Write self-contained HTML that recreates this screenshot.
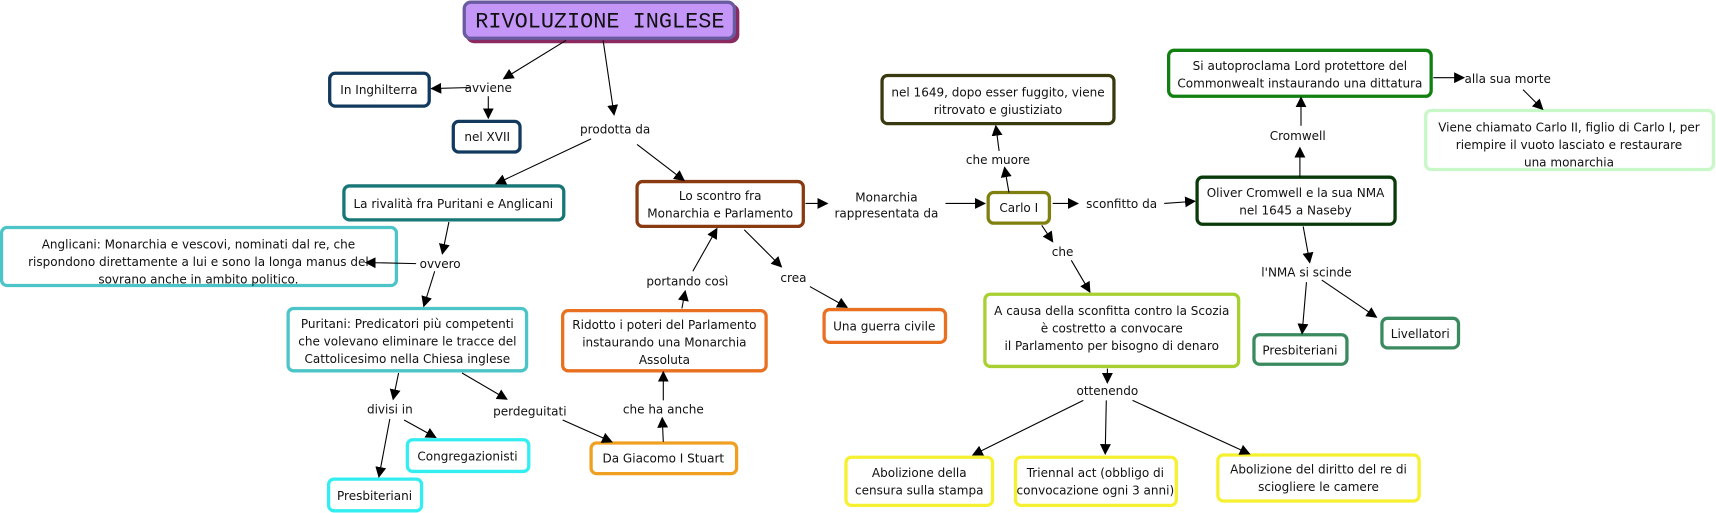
<!DOCTYPE html>
<html><head><meta charset="utf-8"><style>
html,body{margin:0;padding:0;background:#fff;}
svg{display:block;}
text{font-family:"DejaVu Sans","Liberation Sans",sans-serif;font-size:11px;fill:#111;}
.t{font-family:"Liberation Mono",monospace;font-size:20px;fill:#111;}
</style></head><body>
<svg width="1716" height="513" viewBox="0 0 1568 469" xmlns="http://www.w3.org/2000/svg">
<defs><marker id="a" markerWidth="10" markerHeight="10" refX="9" refY="5" orient="auto" markerUnits="userSpaceOnUse"><path d="M0,0 L10,5 L0,10 z" fill="#000"/></marker></defs>
<g fill="#fff" stroke-width="3">
<rect x="427" y="5" width="247" height="33" rx="6" fill="#8a2a60" stroke="#8a2a60"/>
<rect x="424" y="2" width="247" height="33" rx="6" fill="#c396f8" stroke="#6a5aa0"/>
<rect x="301" y="67" width="91" height="30" rx="5" stroke="#123a5e"/>
<rect x="414" y="111" width="61" height="28" rx="5" stroke="#123a5e"/>
<rect x="314" y="170" width="201" height="31" rx="5" stroke="#177676"/>
<rect x="1" y="208" width="361" height="53" rx="5" stroke="#4cc4c8"/>
<rect x="263" y="282" width="218" height="57" rx="5" stroke="#4cc4c8"/>
<rect x="372" y="402" width="111" height="29" rx="5" stroke="#33eef0"/>
<rect x="300" y="438" width="85" height="29" rx="5" stroke="#33eef0"/>
<rect x="582" y="166" width="152" height="41" rx="5" stroke="#8a3a10"/>
<rect x="514" y="284" width="186" height="55" rx="5" stroke="#e87020"/>
<rect x="540" y="405" width="133" height="28" rx="5" stroke="#f0a020"/>
<rect x="753" y="283" width="111" height="30" rx="5" stroke="#e87020"/>
<rect x="903" y="176" width="56" height="28" rx="5" stroke="#808010"/>
<rect x="806" y="69" width="212" height="44" rx="5" stroke="#3a3a10"/>
<rect x="900" y="269" width="232" height="66" rx="5" stroke="#a8d030"/>
<rect x="773" y="418" width="134" height="44" rx="5" stroke="#f5f030"/>
<rect x="928" y="418" width="147" height="44" rx="5" stroke="#f5f030"/>
<rect x="1113" y="416" width="184" height="42" rx="5" stroke="#f5f030"/>
<rect x="1094" y="162" width="181" height="43" rx="5" stroke="#0a3a0a"/>
<rect x="1068" y="46" width="240" height="42" rx="5" stroke="#108010"/>
<rect x="1303" y="101" width="263" height="54" rx="5" stroke="#c8f8c8"/>
<rect x="1146" y="306" width="85" height="27" rx="5" stroke="#3a8a60"/>
<rect x="1263" y="291" width="70" height="27" rx="5" stroke="#3a8a60"/>
</g>
<g stroke="#000" stroke-width="1" marker-end="url(#a)">
<line x1="517" y1="37" x2="460" y2="72"/>
<line x1="430" y1="80" x2="394" y2="81"/>
<line x1="446" y1="88" x2="446" y2="108"/>
<line x1="551" y1="37" x2="561" y2="105"/>
<line x1="540" y1="127" x2="453" y2="168"/>
<line x1="582" y1="132" x2="625" y2="165"/>
<line x1="410" y1="203" x2="404" y2="232"/>
<line x1="380" y1="241" x2="334" y2="240"/>
<line x1="397" y1="248" x2="387" y2="280"/>
<line x1="364" y1="341" x2="359" y2="365"/>
<line x1="356" y1="383" x2="346" y2="436"/>
<line x1="369" y1="384" x2="398" y2="400"/>
<line x1="422" y1="341" x2="463" y2="365"/>
<line x1="514" y1="384" x2="559" y2="404"/>
<line x1="606" y1="404" x2="605" y2="382"/>
<line x1="606" y1="366" x2="606" y2="340"/>
<line x1="623" y1="282" x2="626" y2="266"/>
<line x1="633" y1="248" x2="655" y2="209"/>
<line x1="680" y1="210" x2="714" y2="244"/>
<line x1="740" y1="262" x2="774" y2="281"/>
<line x1="736" y1="186" x2="756" y2="186"/>
<line x1="864" y1="186" x2="900" y2="186"/>
<line x1="922" y1="176" x2="918" y2="153"/>
<line x1="913" y1="138" x2="910" y2="115"/>
<line x1="962" y1="186" x2="985" y2="186"/>
<line x1="1064" y1="186" x2="1092" y2="184"/>
<line x1="952" y1="206" x2="962" y2="221"/>
<line x1="979" y1="238" x2="996" y2="267"/>
<line x1="1012" y1="337" x2="1012" y2="350"/>
<line x1="990" y1="366" x2="889" y2="416"/>
<line x1="1011" y1="366" x2="1010" y2="415"/>
<line x1="1035" y1="366" x2="1142" y2="415"/>
<line x1="1188" y1="162" x2="1188" y2="135"/>
<line x1="1189" y1="115" x2="1189" y2="89"/>
<line x1="1310" y1="71" x2="1338" y2="71"/>
<line x1="1392" y1="82" x2="1410" y2="100"/>
<line x1="1191" y1="207" x2="1197" y2="240"/>
<line x1="1194" y1="258" x2="1190" y2="305"/>
<line x1="1208" y1="256" x2="1258" y2="290"/>
</g>
<g text-anchor="middle">
<text class="t" x="548" y="25">RIVOLUZIONE INGLESE</text>
<text x="346" y="86">In Inghilterra</text>
<text x="445" y="129">nel XVII</text>
<text x="414" y="190">La rivalità fra Puritani e Anglicani</text>
<text x="181" y="227">Anglicani: Monarchia e vescovi, nominati dal re, che</text>
<text x="181" y="243">rispondono direttamente a lui e sono la longa manus del</text>
<text x="181" y="259">sovrano anche in ambito politico.</text>
<text x="372" y="300">Puritani: Predicatori più competenti</text>
<text x="372" y="316">che volevano eliminare le tracce del</text>
<text x="372" y="332">Cattolicesimo nella Chiesa inglese</text>
<text x="427" y="421">Congregazionisti</text>
<text x="342" y="457">Presbiteriani</text>
<text x="658" y="183">Lo scontro fra</text>
<text x="658" y="199">Monarchia e Parlamento</text>
<text x="607" y="301">Ridotto i poteri del Parlamento</text>
<text x="607" y="317">instaurando una Monarchia</text>
<text x="607" y="333">Assoluta</text>
<text x="606" y="423">Da Giacomo I Stuart</text>
<text x="808" y="302">Una guerra civile</text>
<text x="931" y="194">Carlo I</text>
<text x="912" y="88">nel 1649, dopo esser fuggito, viene</text>
<text x="912" y="104">ritrovato e giustiziato</text>
<text x="1016" y="288">A causa della sconfitta contro la Scozia</text>
<text x="1016" y="304">è costretto a convocare</text>
<text x="1016" y="320">il Parlamento per bisogno di denaro</text>
<text x="840" y="436">Abolizione della</text>
<text x="840" y="452">censura sulla stampa</text>
<text x="1001" y="436">Triennal act (obbligo di</text>
<text x="1001" y="452">convocazione ogni 3 anni)</text>
<text x="1205" y="433">Abolizione del diritto del re di</text>
<text x="1205" y="449">sciogliere le camere</text>
<text x="1184" y="180">Oliver Cromwell e la sua NMA</text>
<text x="1184" y="196">nel 1645 a Naseby</text>
<text x="1188" y="64">Si autoproclama Lord protettore del</text>
<text x="1188" y="80">Commonwealt instaurando una dittatura</text>
<text x="1434" y="120">Viene chiamato Carlo II, figlio di Carlo I, per</text>
<text x="1434" y="136">riempire il vuoto lasciato e restaurare</text>
<text x="1434" y="152">una monarchia</text>
<text x="1188" y="324">Presbiteriani</text>
<text x="1298" y="309">Livellatori</text>
<text x="446" y="84">avviene</text>
<text x="562" y="122">prodotta da</text>
<text x="402" y="245">ovvero</text>
<text x="356" y="378">divisi in</text>
<text x="484" y="380">perdeguitati</text>
<text x="606" y="378">che ha anche</text>
<text x="628" y="261">portando così</text>
<text x="725" y="258">crea</text>
<text x="810" y="184">Monarchia</text>
<text x="810" y="199">rappresentata da</text>
<text x="912" y="150">che muore</text>
<text x="971" y="234">che</text>
<text x="1025" y="190">sconfitto da</text>
<text x="1012" y="361">ottenendo</text>
<text x="1186" y="128">Cromwell</text>
<text x="1194" y="253">l'NMA si scinde</text>
<text x="1378" y="76">alla sua morte</text>
</g>
</svg>
</body></html>
